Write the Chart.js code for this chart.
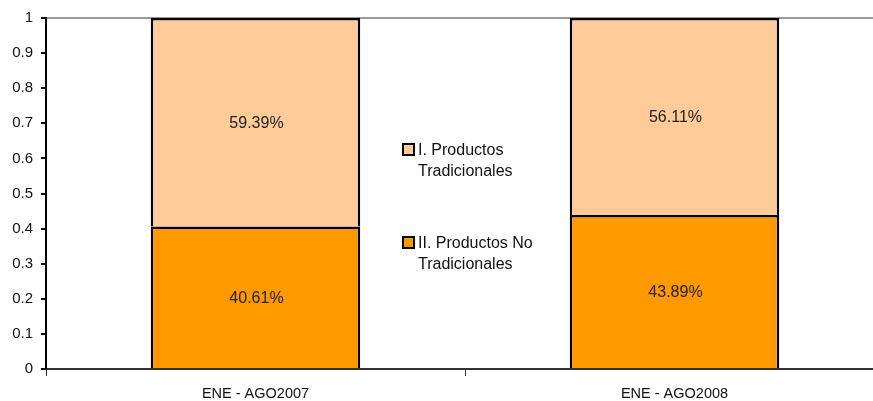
<!DOCTYPE html>
<html>
<head>
<meta charset="utf-8">
<script src="https://cdn.jsdelivr.net/npm/chart.js@4.4.0/dist/chart.umd.min.js"></script>
<style>
  html, body { margin: 0; padding: 0; background: #fff; overflow: hidden; }
  #wrap { width: 873px; height: 401px; overflow: hidden; }
</style>
</head>
<body>
<div id="wrap"><canvas id="chart" width="884" height="401"></canvas></div>
<script>
// datos
const categorias = ['ENE - AGO2007', 'ENE - AGO2008'];
const noTradicionales = [0.4061, 0.4389];
const tradicionales = [0.5939, 0.5611];
const etiquetasSeries = [['II. Productos No', 'Tradicionales'], ['I. Productos', 'Tradicionales']];

const FONT = 'Liberation Sans, Arial, sans-serif';

// etiquetas de porcentaje dentro de cada segmento
const valueLabels = {
    id: 'valueLabels',
    afterDatasetsDraw(chart) {
        const ctx = chart.ctx;
        ctx.save();
        ctx.font = '16px ' + FONT;
        ctx.fillStyle = '#222';
        ctx.textAlign = 'center';
        ctx.textBaseline = 'middle';
        chart.data.datasets.forEach((ds, i) => {
            chart.getDatasetMeta(i).data.forEach((bar, j) => {
                const y = (bar.y + bar.base) / 2 + 1;
                ctx.fillText((ds.data[j] * 100).toFixed(2) + '%', bar.x + 1, y);
            });
        });
        ctx.restore();
    }
};

// leyenda dentro del area del grafico
const innerLegend = {
    id: 'innerLegend',
    afterDraw(chart) {
        const ctx = chart.ctx;
        const items = [
            { ds: chart.data.datasets[1], top: 143 },
            { ds: chart.data.datasets[0], top: 236 }
        ];
        ctx.save();
        ctx.font = '16px ' + FONT;
        ctx.textBaseline = 'middle';
        items.forEach(it => {
            ctx.fillStyle = it.ds.backgroundColor;
            ctx.fillRect(403, it.top + 1, 11, 11);
            ctx.strokeStyle = '#000';
            ctx.lineWidth = 2;
            ctx.strokeRect(403, it.top + 1, 11, 11);
            ctx.fillStyle = '#111';
            it.ds.label.forEach((line, k) => {
                ctx.fillText(line, 418, it.top + 8 + k * 21);
            });
        });
        ctx.restore();
    }
};

new Chart(document.getElementById('chart'), {
    type: 'bar',
    data: {
        labels: categorias,
        datasets: [
            {
                label: etiquetasSeries[0],
                data: noTradicionales,
                backgroundColor: '#FF9900',
                borderColor: '#000',
                borderWidth: 2.5
            },
            {
                label: etiquetasSeries[1],
                data: tradicionales,
                backgroundColor: '#FFCC99',
                borderColor: '#000',
                borderWidth: 2.5
            }
        ]
    },
    options: {
        responsive: false,
        animation: false,
        barPercentage: 0.5,
        categoryPercentage: 1,
        layout: { padding: { top: 18, right: 0, left: 0, bottom: 0 } },
        plugins: {
            legend: { display: false },
            tooltip: { enabled: false }
        },
        scales: {
            x: {
                stacked: true,
                border: { color: '#333', width: 2 },
                grid: {
                    offset: true,
                    drawOnChartArea: false,
                    tickColor: '#333',
                    tickLength: 7
                },
                ticks: {
                    color: '#111',
                    font: { family: FONT, size: 14.5 },
                    padding: 9
                },
                afterFit(axis) { axis.height = 32; }
            },
            y: {
                stacked: true,
                min: 0,
                max: 1,
                border: { color: '#000', width: 2 },
                grid: {
                    color: ctx => ctx.tick && ctx.tick.value === 1 ? '#999' : 'rgba(0,0,0,0)',
                    lineWidth: 2,
                    tickColor: '#000',
                    tickLength: 5
                },
                ticks: {
                    stepSize: 0.1,
                    color: '#111',
                    font: { family: FONT, size: 15 },
                    padding: 8,
                    callback: v => String(Number(v.toFixed(1)))
                },
                afterFit(axis) { axis.width = 46; }
            }
        }
    },
    plugins: [valueLabels, innerLegend]
});
</script>
</body>
</html>
